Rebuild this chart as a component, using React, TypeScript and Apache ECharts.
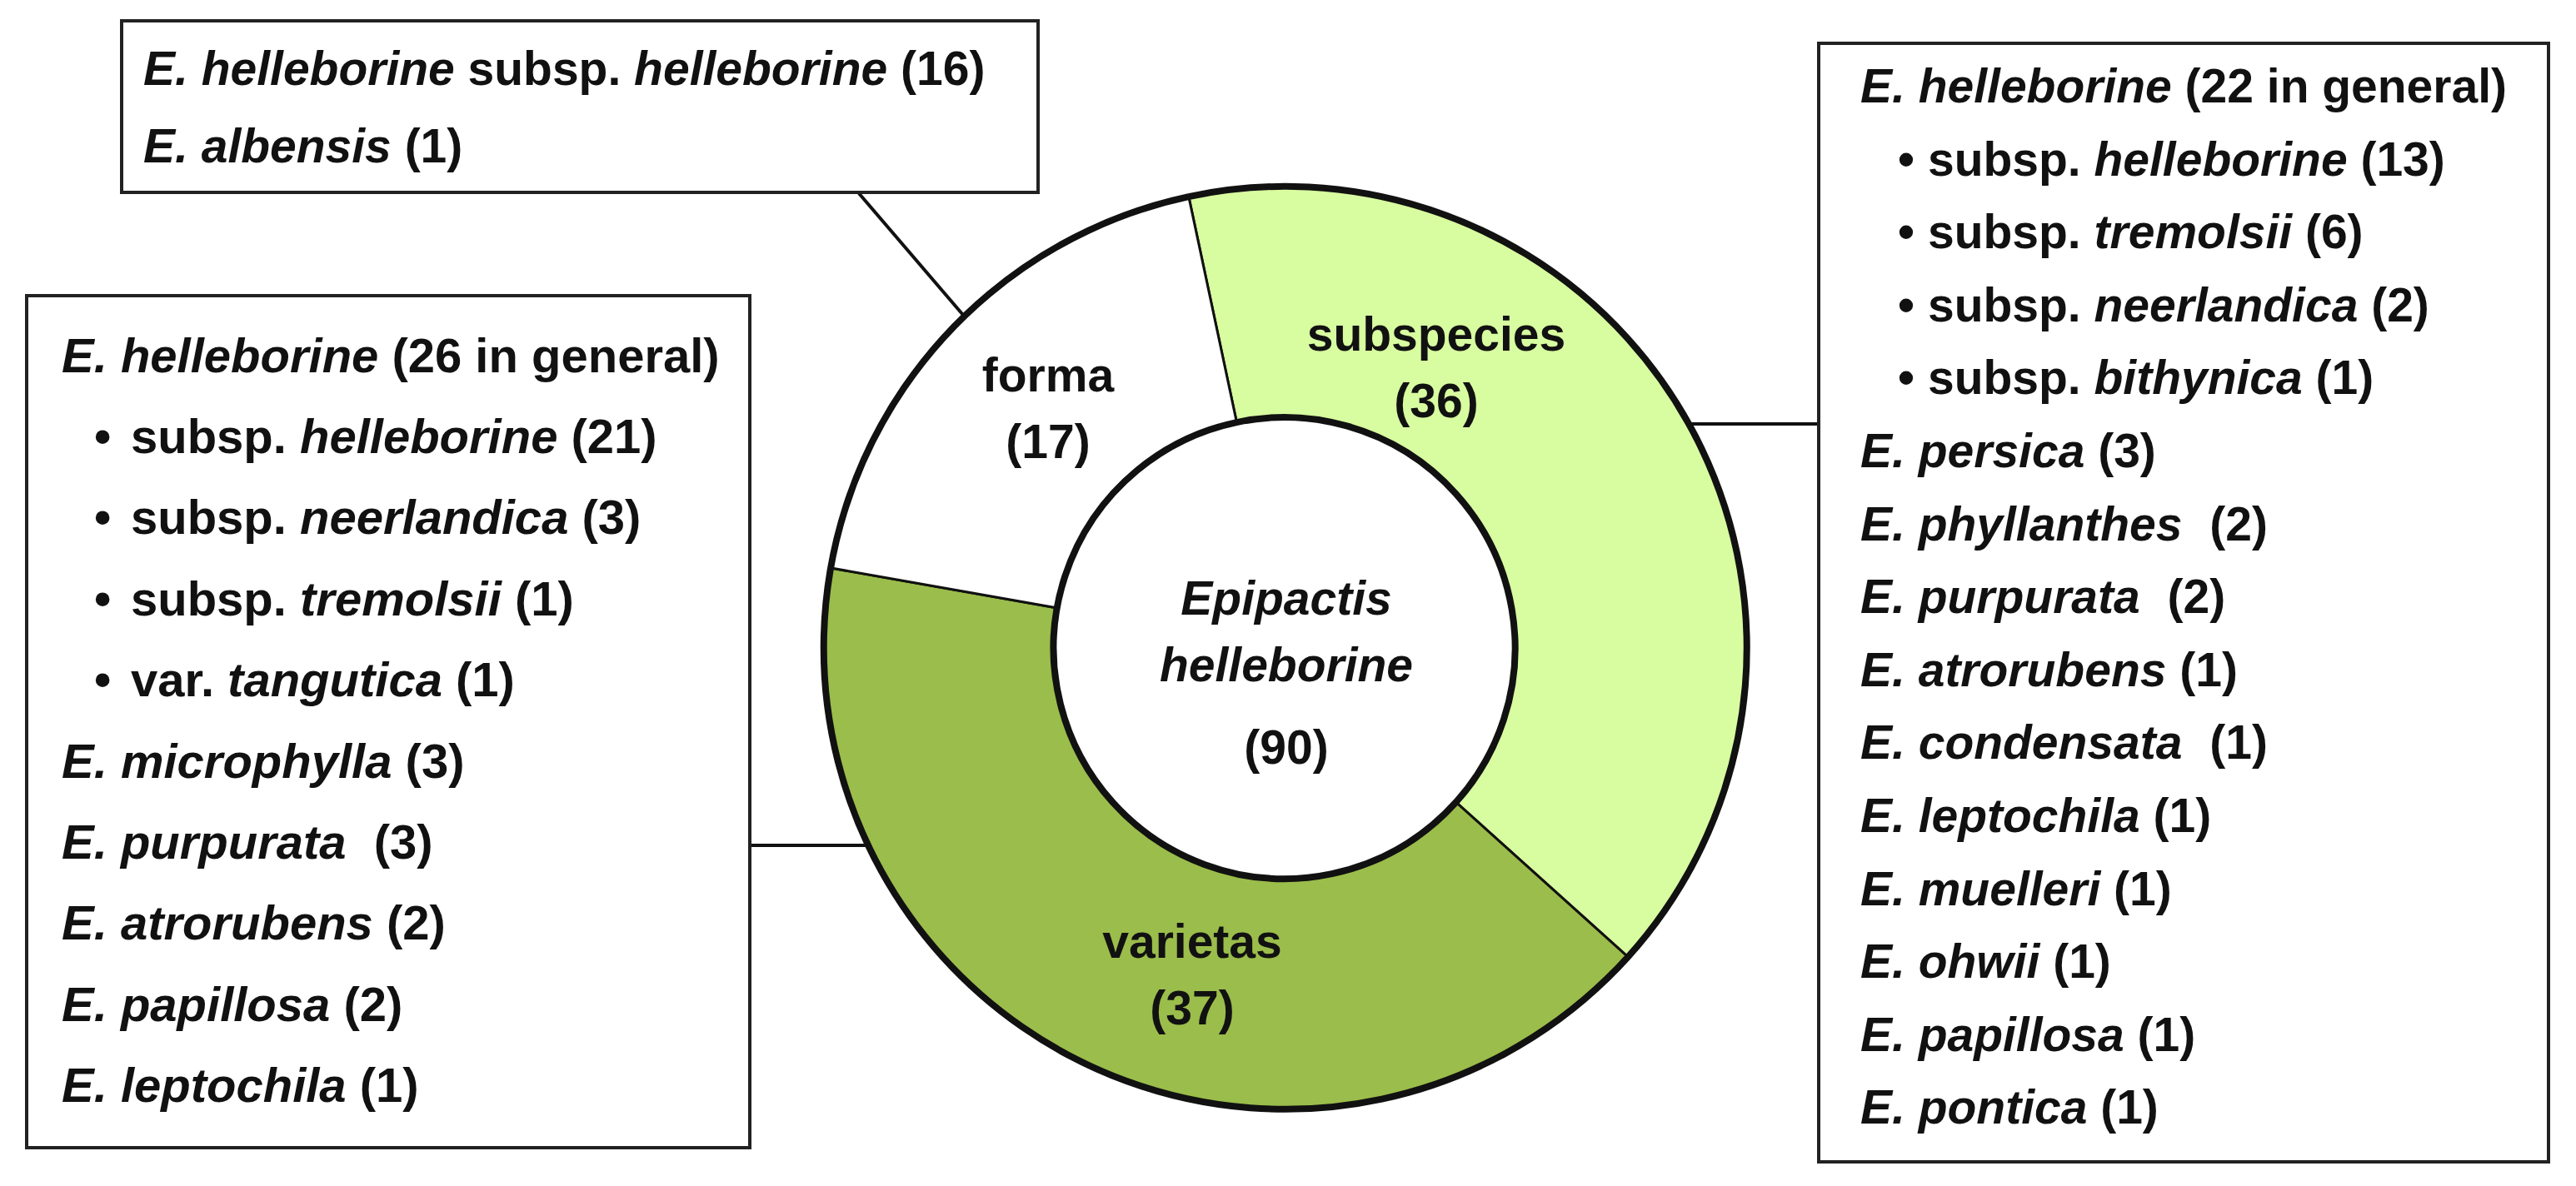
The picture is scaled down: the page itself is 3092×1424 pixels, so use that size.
import React, { useEffect, useRef } from "react";
import * as echarts from "echarts";

// ---- data ----
const sliceNames = ["subspecies", "varietas", "forma"];
const sliceValues = [36, 37, 17];
const sliceColors = ["#D8FCA0", "#9BBD4B", "#FFFFFF"];
const centerName = ["Epipactis", "helleborine"];
const centerTotal = 90;

const formaTaxa = ["E. helleborine subsp. helleborine", "E. albensis"];
const formaCounts = ["16", "1"];
const formaIndent = [0, 0];
const formaGap = [0, 0];

const varietasTaxa = [
  "E. helleborine",
  "subsp. helleborine",
  "subsp. neerlandica",
  "subsp. tremolsii",
  "var. tangutica",
  "E. microphylla",
  "E. purpurata",
  "E. atrorubens",
  "E. papillosa",
  "E. leptochila",
];
const varietasCounts = ["26 in general", "21", "3", "1", "1", "3", "3", "2", "2", "1"];
const varietasIndent = [0, 1, 1, 1, 1, 0, 0, 0, 0, 0];
const varietasGap = [0, 0, 0, 0, 0, 0, 1, 0, 0, 0];

const subspeciesTaxa = [
  "E. helleborine",
  "subsp. helleborine",
  "subsp. tremolsii",
  "subsp. neerlandica",
  "subsp. bithynica",
  "E. persica",
  "E. phyllanthes",
  "E. purpurata",
  "E. atrorubens",
  "E. condensata",
  "E. leptochila",
  "E. muelleri",
  "E. ohwii",
  "E. papillosa",
  "E. pontica",
];
const subspeciesCounts = ["22 in general", "13", "6", "2", "1", "3", "2", "2", "1", "1", "1", "1", "1", "1", "1"];
const subspeciesIndent = [0, 1, 1, 1, 1, 0, 0, 0, 0, 0, 0, 0, 0, 0, 0];
const subspeciesGap = [0, 0, 0, 0, 0, 0, 1, 1, 0, 1, 0, 0, 0, 0, 0];

// ---- layout / style ----
const W = 3092;
const H = 1424;
const CX = 1542;
const CY = 778;
const R_OUT = 554;
const R_IN = 277;
const START_ANGLE = 102;
const FONT = '"Liberation Sans", Arial, Helvetica, sans-serif';
const FS = 57;

function richLine(name: string, count: string, bullet: boolean, gap: boolean): string {
  const tokens = name.split(" ");
  const groups: { s: string; t: string[] }[] = [];
  tokens.forEach((tok) => {
    const s = tok === "subsp." || tok === "var." ? "n" : "i";
    const last = groups[groups.length - 1];
    if (last && last.s === s) last.t.push(tok);
    else groups.push({ s, t: [tok] });
  });
  const body = groups.map((g) => `{${g.s}|${g.t.join(" ")}}`).join(" ");
  return (bullet ? "{b|•}" : "") + body + (gap ? "{g| }" : "") + ` {n|(${count})}`;
}

function richStyles(fs: number, bulletWidth: number) {
  const base = { fontSize: fs, fontFamily: FONT, fontWeight: "bold", fill: "#111" };
  return {
    i: { ...base, fontStyle: "italic" },
    n: { ...base },
    b: { ...base, width: bulletWidth },
    g: { ...base, width: Math.round(fs * 0.3) },
  };
}

function boxTexts(
  taxa: string[],
  counts: string[],
  indent: number[],
  gaps: number[],
  fs: number,
  textX: number,
  bulletX: number,
  y0: number,
  dy: number,
  bulletWidth: number
) {
  return taxa.map((t, k) => ({
    type: "text",
    x: indent[k] ? bulletX : textX,
    y: y0 + dy * k,
    z: 10,
    style: {
      text: richLine(t, counts[k], !!indent[k], !!gaps[k]),
      rich: richStyles(fs, bulletWidth),
      fontSize: fs,
      fontFamily: FONT,
      fontWeight: "bold",
      fill: "#111",
      align: "left",
      verticalAlign: "middle",
    },
  }));
}

function box(x: number, y: number, w: number, h: number) {
  return {
    type: "rect",
    z: 5,
    shape: { x, y, width: w, height: h },
    style: { fill: "#fff", stroke: "#222", lineWidth: 4 },
  };
}

function polar(angleDeg: number, r: number) {
  const a = (angleDeg * Math.PI) / 180;
  return [CX + r * Math.cos(a), CY - r * Math.sin(a)];
}

function connector(x1: number, y1: number, x2: number, y2: number) {
  return {
    type: "line",
    z: 4,
    shape: { x1, y1, x2, y2 },
    style: { stroke: "#111", lineWidth: 4 },
  };
}

const labelPos = [
  [1724, 441],
  [1431, 1170],
  [1258, 490],
];

export default function App() {
  const ref = useRef<HTMLDivElement>(null);
  useEffect(() => {
    document.body.style.margin = "0";
    const chart = echarts.init(ref.current!, null, { renderer: "svg" });

    const topConnEnd = polar(134, R_OUT);
    const leftY = 1015;
    const rightY = 509;
    const leftConnEndX = CX - Math.sqrt(R_OUT * R_OUT - (leftY - CY) * (leftY - CY));
    const rightConnEndX = CX + Math.sqrt(R_OUT * R_OUT - (rightY - CY) * (rightY - CY));

    const option = {
      animation: false,
      backgroundColor: "#ffffff",
      series: [
        {
          type: "pie",
          center: [CX, CY],
          radius: [R_IN, R_OUT],
          startAngle: START_ANGLE,
          clockwise: true,
          silent: true,
          z: 2,
          data: sliceNames.map((n, k) => ({
            name: n,
            value: sliceValues[k],
            itemStyle: { color: sliceColors[k] },
          })),
          itemStyle: { borderColor: "#111", borderWidth: 3 },
          label: {
            show: true,
            position: "inside",
            formatter: "{b}\n({c})",
            fontSize: FS,
            fontWeight: "bold",
            fontFamily: FONT,
            color: "#111",
            lineHeight: 80,
            align: "center",
          },
          labelLine: { show: false },
          labelLayout: (p: any) => ({
            x: labelPos[p.dataIndex][0],
            y: labelPos[p.dataIndex][1],
            align: "center",
            verticalAlign: "middle",
          }),
        },
        {
          type: "pie",
          center: [CX, CY],
          radius: [R_IN, R_OUT],
          startAngle: START_ANGLE,
          silent: true,
          z: 3,
          data: [{ name: centerName.join(" "), value: centerTotal }],
          itemStyle: { color: "rgba(0,0,0,0)", borderColor: "#111", borderWidth: 8 },
          label: {
            show: true,
            position: "center",
            formatter: `{i|${centerName[0]}}\n{i|${centerName[1]}}\n{n|(${centerTotal})}`,
            rich: {
              i: { fontSize: FS, fontWeight: "bold", fontStyle: "italic", fontFamily: FONT, color: "#111", lineHeight: 80 },
              n: { fontSize: FS, fontWeight: "bold", fontFamily: FONT, color: "#111", lineHeight: 118 },
            },
          },
          labelLine: { show: false },
          labelLayout: () => ({ x: CX + 2, y: CY + 39, align: "center", verticalAlign: "middle" }),
        },
      ],
      graphic: [
        connector(1030, 231, topConnEnd[0], topConnEnd[1]),
        connector(900, leftY, leftConnEndX, leftY),
        connector(rightConnEndX, rightY, 2183, rightY),
        box(146, 25, 1100, 206),
        box(32, 355, 868, 1023),
        box(2183, 52, 876, 1343),
        ...boxTexts(formaTaxa, formaCounts, formaIndent, formaGap, 57, 172, 172, 82, 93, 40),
        ...boxTexts(varietasTaxa, varietasCounts, varietasIndent, varietasGap, 58, 74, 113, 426, 97.4, 44),
        ...boxTexts(subspeciesTaxa, subspeciesCounts, subspeciesIndent, subspeciesGap, 57, 2233, 2278, 103, 87.6, 36),
      ],
    };
    chart.setOption(option as any);
    return () => chart.dispose();
  }, []);
  return (
    <div
      ref={ref}
      style={{ position: "absolute", left: 0, top: 0, width: W, height: H, background: "#fff" }}
    />
  );
}
